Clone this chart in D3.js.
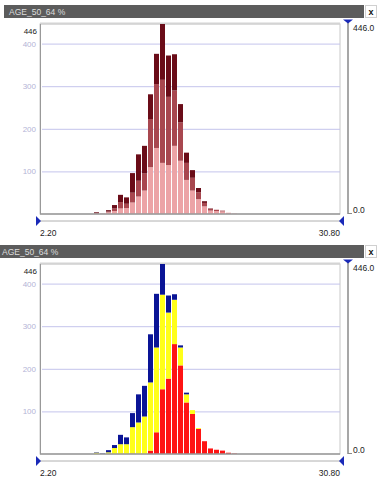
<!DOCTYPE html>
<html>
<head>
<meta charset="utf-8">
<script src="https://cdn.jsdelivr.net/npm/d3@7"></script>
<style>
  body { margin: 0; background: #fff; }
  svg { display: block; font-family: "Liberation Sans", Arial, sans-serif; }
</style>
</head>
<body>
<svg id="canvas"></svg>
<script>
// histogram of AGE_50_64 %, bins of equal width between lo and hi
let title = "AGE_50_64 %";
let domainLo = 2.20, domainHi = 30.80;
let binCount = 50;
let firstBin = 9;       // index of the first non-empty bin
let yMax = 446;
let gridTicks = [100, 200, 300, 400];

// upper panel: three stacked classes (light, medium, dark)
let upperLight  = [1, 1, 4, 7, 13, 14, 27, 41, 55, 110, 155, 120, 115, 160, 125, 80, 55, 35, 18, 8, 7, 6, 3, 1];
let upperMedium = [1, 0, 2, 6, 15, 10, 23, 37, 40, 113, 150, 195, 160, 130, 90, 40, 30, 16, 8, 4, 3, 2, 0, 0];
let upperDark   = [2, 0, 3, 8, 17, 15, 46, 62, 65, 58, 71, 131, 97, 85, 43, 24, 18, 10, 4, 1, 0, 0, 0, 0];

// lower panel: red / yellow / blue classes
let lowerRed    = [0, 0, 0, 0, 0, 0, 1, 0, 0, 8, 51, 152, 177, 258, 208, 121, 94, 59, 30, 13, 10, 8, 3, 1];
let lowerYellow = [3, 0, 4, 14, 23, 23, 62, 74, 88, 160, 199, 222, 155, 104, 42, 19, 9, 2, 0, 0, 0, 0, 0, 0];
let lowerBlue   = [1, 1, 5, 7, 22, 16, 33, 66, 72, 113, 126, 72, 40, 13, 5, 4, 0, 0, 0, 0, 0, 0, 0, 0];

let width = 377, height = 480;

let svg = d3.select("svg#canvas")
    .attr("width", width)
    .attr("height", height);

let binWidth = (domainHi - domainLo) / binCount;

function drawPanel(offsetY, barLeft, textLeft, series, colors) {
    let g = svg.append("g").attr("transform", `translate(0, ${offsetY})`);

    let x = d3.scaleLinear().domain([domainLo, domainHi]).range([40, 340]);
    let y = d3.scaleLinear().domain([0, yMax]).range([214, 24]);

    // title bar
    g.append("rect").attr("x", barLeft).attr("y", 5).attr("width", 364 - barLeft).attr("height", 13).attr("fill", "#5c5c5c");
    g.append("text").attr("x", textLeft).attr("y", 15).attr("fill", "#dcdcdc")
        .attr("font-size", 8.5).text(title);

    // close box
    g.append("rect").attr("x", 365.5).attr("y", 5.5).attr("width", 11).attr("height", 12)
        .attr("fill", "#fff").attr("stroke", "#d0d0d0");
    g.append("text").attr("x", 371).attr("y", 14.5).attr("text-anchor", "middle")
        .attr("font-size", 9).attr("font-weight", "bold").attr("fill", "#111").text("x");

    // frame
    g.append("rect").attr("x", 40).attr("y", 24).attr("width", 300).attr("height", 190)
        .attr("fill", "#fff").attr("stroke", "#c8c8c8").attr("stroke-width", 1);
    g.append("line").attr("x1", 40).attr("x2", 340).attr("y1", 23.5).attr("y2", 23.5)
        .attr("stroke", "#d4d4d4").attr("stroke-width", 2);
    g.append("line").attr("x1", 40.5).attr("x2", 40.5).attr("y1", 24).attr("y2", 214)
        .attr("stroke", "#999");

    // grid
    let grid = g.append("g").attr("transform", "translate(40, 0)")
        .call(d3.axisLeft(y).tickValues(gridTicks).tickSize(-300).tickPadding(4));
    grid.select(".domain").remove();
    grid.selectAll(".tick line").attr("stroke", "#c4c4ec").attr("x1", 2);
    grid.selectAll(".tick text").attr("fill", "#b4b4d6").attr("font-size", 8)
        .attr("font-family", "Liberation Sans, Arial, sans-serif");

    g.append("text").attr("x", 37).attr("y", y(yMax) + 10).attr("text-anchor", "end")
        .attr("font-size", 8).attr("fill", "#222").text(yMax);

    // stacked bars
    let rows = series[0].map((d, i) => {
        let r = { bin: firstBin + i };
        series.forEach((s, k) => { r["s" + k] = s[i]; });
        return r;
    });
    let keys = series.map((s, k) => "s" + k);
    let stacked = d3.stack().keys(keys)(rows);

    g.append("g").selectAll("g")
        .data(stacked)
        .enter().append("g")
        .attr("fill", (d, k) => colors[k])
        .selectAll("rect")
        .data(d => d.filter(p => p[1] > p[0]))
        .enter().append("rect")
        .attr("x", p => x(domainLo + p.data.bin * binWidth))
        .attr("width", p => x(domainLo + binWidth) - x(domainLo) - 1)
        .attr("y", p => y(p[1]))
        .attr("height", p => y(p[0]) - y(p[1]));

    // baseline
    g.append("line").attr("x1", 40).attr("x2", 340).attr("y1", 214).attr("y2", 214)
        .attr("stroke", "#9a9a9a").attr("stroke-width", 1.5);

    // right range slider
    g.append("line").attr("x1", 348).attr("x2", 348).attr("y1", 21).attr("y2", 214)
        .attr("stroke", "#8a8a8a").attr("stroke-width", 1.5);
    g.append("line").attr("x1", 348).attr("x2", 352).attr("y1", 213.5).attr("y2", 213.5)
        .attr("stroke", "#8a8a8a");
    g.append("path").attr("d", "M343,19.5 L353,19.5 L348,23.5 Z").attr("fill", "#1a2ab8");
    g.append("text").attr("x", 353).attr("y", 31).attr("font-size", 8.5).attr("fill", "#222")
        .text(yMax.toFixed(1));
    g.append("text").attr("x", 353).attr("y", 213).attr("font-size", 8.5).attr("fill", "#222")
        .text((0).toFixed(1));

    // bottom range slider
    g.append("line").attr("x1", 40).attr("x2", 340).attr("y1", 221).attr("y2", 221)
        .attr("stroke", "#b0b0b0");
    g.append("path").attr("d", "M36,216 L36,226 L41,221 Z").attr("fill", "#1a2ab8");
    g.append("path").attr("d", "M344,216 L344,226 L339,221 Z").attr("fill", "#1a2ab8");
    g.append("text").attr("x", 40).attr("y", 236).attr("font-size", 8.5).attr("fill", "#222")
        .text(domainLo.toFixed(2));
    g.append("text").attr("x", 340).attr("y", 236).attr("text-anchor", "end")
        .attr("font-size", 8.5).attr("fill", "#222").text(domainHi.toFixed(2));
}

drawPanel(0, 4, 9, [upperLight, upperMedium, upperDark], ["#eca3a6", "#a8474f", "#6a0c18"]);
drawPanel(240, 0, 2, [lowerRed, lowerYellow, lowerBlue], ["#ff1414", "#ffff1a", "#0a1496"]);
</script>
</body>
</html>
